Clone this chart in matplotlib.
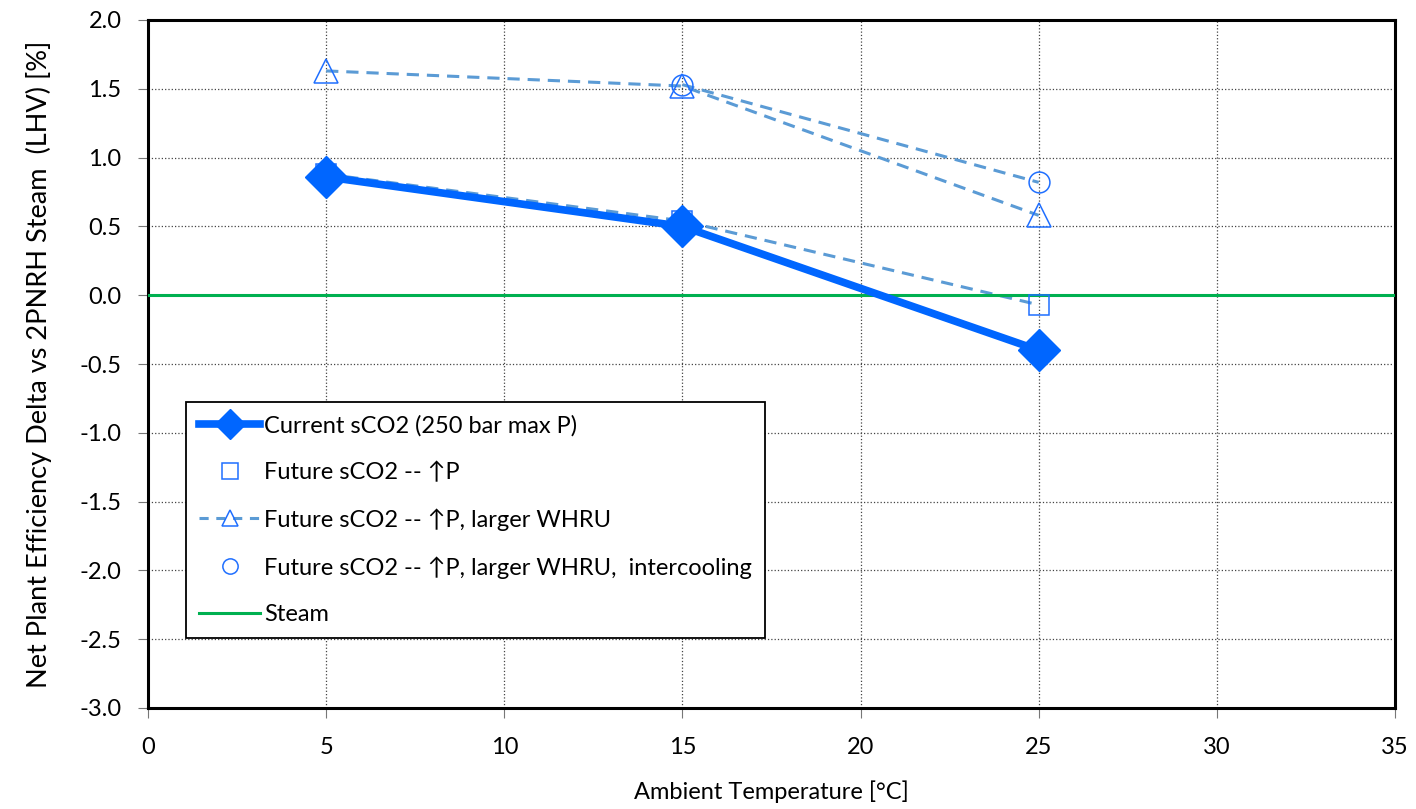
import matplotlib.pyplot as plt
from matplotlib.lines import Line2D

plt.rcParams['font.family'] = ['Lato', 'DejaVu Sans']

# ambient temperature [C]
temps = [5, 15, 25]
temps_ic = [15, 25]

# efficiency delta vs steam [%]
current_sco2 = [0.86, 0.50, -0.40]
future_p = [0.88, 0.54, -0.07]
future_whru = [1.63, 1.52, 0.58]
future_ic = [1.53, 0.82]
steam_x = [0, 35]
steam_y = [0.0, 0.0]

labels = ['Current sCO2 (250 bar max P)',
          'Future sCO2 -- \u2191P',
          'Future sCO2 -- \u2191P, larger WHRU',
          'Future sCO2 -- \u2191P, larger WHRU,  intercooling',
          'Steam']

xticks = [0, 5, 10, 15, 20, 25, 30, 35]
yticks = [2.0, 1.5, 1.0, 0.5, 0.0, -0.5, -1.0, -1.5, -2.0, -2.5, -3.0]

dash_col = '#5B9BD5'
mk_col = '#1F6FFF'
main_col = '#0066FF'
green = '#00B050'

fig = plt.figure(figsize=(14.16, 8.09), dpi=100)
ax = fig.add_axes([148/1416, 1-708/809, (1395-148)/1416, (708-20)/809])

ax.plot(steam_x, steam_y, color=green, lw=2.2, zorder=3)

ax.plot(temps, future_p, color=dash_col, lw=2.2, dashes=(4, 2.6), zorder=2.5)
ax.plot(temps, future_p, ls='none', marker='s', ms=15, mfc='none', mec=mk_col, mew=1.1, zorder=4)

ax.plot(temps, future_whru, color=dash_col, lw=2.2, dashes=(4, 2.6), zorder=3)
ax.plot(temps, future_whru, ls='none', marker='^', ms=17, mfc='none', mec=mk_col, mew=1.1, zorder=4)

ax.plot(temps_ic, future_ic, color=dash_col, lw=2.2, dashes=(4, 2.6), zorder=3)
ax.plot(temps_ic, future_ic, ls='none', marker='o', ms=15, mfc='none', mec=mk_col, mew=1.1, zorder=4)

ax.plot(temps, current_sco2, color=main_col, lw=5.5, marker='D', ms=21, mfc=main_col, mec=main_col, zorder=5)

ax.set_xlim(0, 35)
ax.set_ylim(-3.0, 2.0)
ax.set_xticks(xticks)
ax.set_yticks(yticks)
ax.set_yticklabels(['%.1f' % v for v in yticks])
ax.tick_params(labelsize=17, length=7, width=0.8, color='#777777', direction='out')
ax.tick_params(axis='x', pad=14)
ax.tick_params(axis='y', pad=12)
ax.grid(True, ls=':', color='#444444', lw=0.9)
ax.set_axisbelow(True)
for sp in ax.spines.values():
    sp.set_linewidth(2.2)
    sp.set_color('black')

ax.set_xlabel('Ambient Temperature [\u00b0C]', fontsize=17, labelpad=16)
ax.set_ylabel('Net Plant Efficiency Delta vs 2PNRH Steam  (LHV) [%]', fontsize=19.5, labelpad=20)

handles = [
    Line2D([], [], color=main_col, lw=5.5, marker='D', ms=15, mfc=main_col, mec=main_col),
    Line2D([], [], ls='none', marker='s', ms=11, mfc='none', mec=mk_col, mew=1.1),
    Line2D([], [], color=dash_col, lw=2.2, dashes=(3, 2.5), marker='^', ms=12, mfc='none', mec=mk_col, mew=1.1),
    Line2D([], [], ls='none', marker='o', ms=11, mfc='none', mec=mk_col, mew=1.1),
    Line2D([], [], color=green, lw=2.2),
]
leg = ax.legend(handles, labels, loc='lower left', bbox_to_anchor=(0.0305, 0.102),
                borderaxespad=0, fontsize=17, frameon=True, fancybox=False,
                edgecolor='black', labelspacing=1.07, handlelength=2.6,
                handletextpad=0.15, borderpad=0.55, framealpha=1)
leg.get_frame().set_linewidth(1.3)

fig.savefig('out.png', dpi=100)
